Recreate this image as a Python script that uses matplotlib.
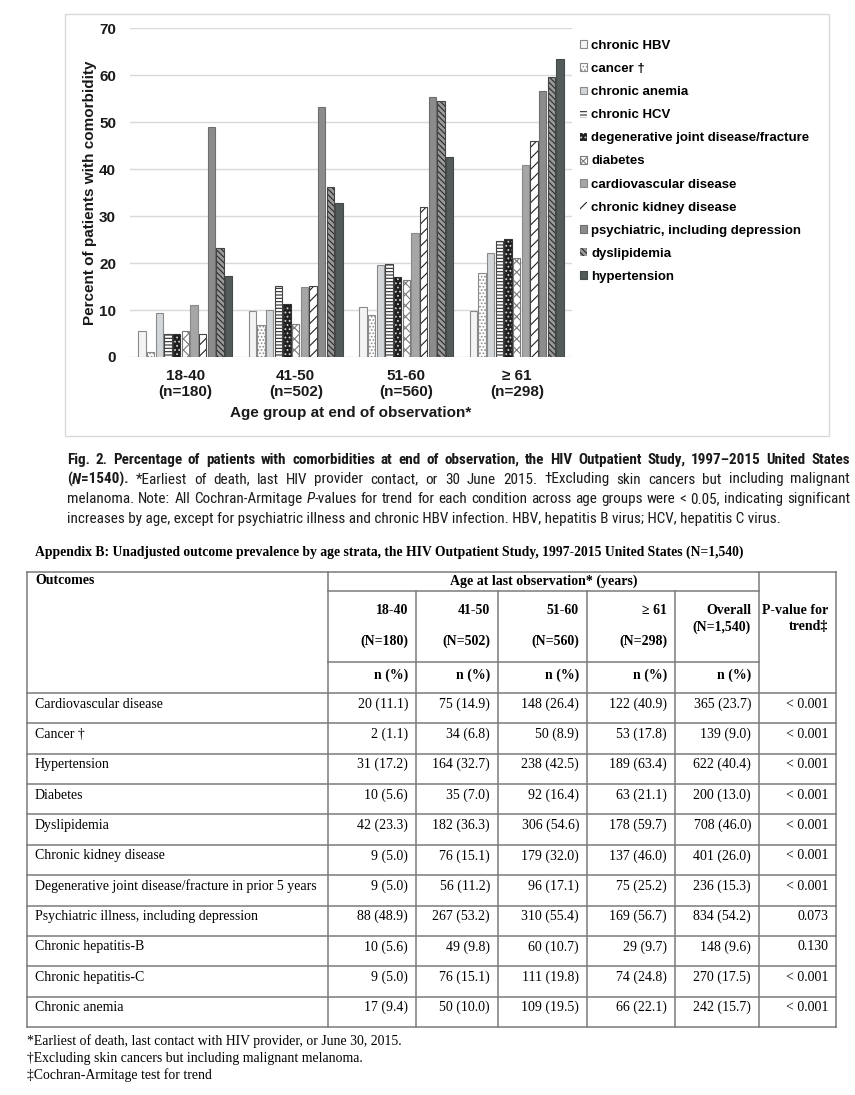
import os
import re
import matplotlib
matplotlib.use('Agg')
import matplotlib.pyplot as plt
from matplotlib import font_manager
from matplotlib.font_manager import FontProperties
from matplotlib.patches import Rectangle
from matplotlib.lines import Line2D

# ---- data (table order) ----
table_rows = ['Cardiovascular disease', 'Cancer †', 'Hypertension', 'Diabetes', 'Dyslipidemia',
              'Chronic kidney disease', 'Degenerative joint disease/fracture in prior 5 years',
              'Psychiatric illness, including depression', 'Chronic hepatitis-B',
              'Chronic hepatitis-C', 'Chronic anemia']
n_18_40 = [20, 2, 31, 10, 42, 9, 9, 88, 10, 9, 17]
pct_18_40 = [11.1, 1.1, 17.2, 5.6, 23.3, 5.0, 5.0, 48.9, 5.6, 5.0, 9.4]
n_41_50 = [75, 34, 164, 35, 182, 76, 56, 267, 49, 76, 50]
pct_41_50 = [14.9, 6.8, 32.7, 7.0, 36.3, 15.1, 11.2, 53.2, 9.8, 15.1, 10.0]
n_51_60 = [148, 50, 238, 92, 306, 179, 96, 310, 60, 111, 109]
pct_51_60 = [26.4, 8.9, 42.5, 16.4, 54.6, 32.0, 17.1, 55.4, 10.7, 19.8, 19.5]
n_61 = [122, 53, 189, 63, 178, 137, 75, 169, 29, 74, 66]
pct_61 = [40.9, 17.8, 63.4, 21.1, 59.7, 46.0, 25.2, 56.7, 9.7, 24.8, 22.1]
n_all = [365, 139, 622, 200, 708, 401, 236, 834, 148, 270, 242]
pct_all = [23.7, 9.0, 40.4, 13.0, 46.0, 26.0, 15.3, 54.2, 9.6, 17.5, 15.7]
p_trend = ['< 0.001'] * 7 + ['0.073', '0.130', '< 0.001', '< 0.001']

# chart series (legend order) -> index into table rows
age_groups = ['18-40\n(n=180)', '41-50\n(n=502)', '51-60\n(n=560)', '≥ 61\n(n=298)']
chart_labels = ['chronic HBV', 'cancer †', 'chronic anemia', 'chronic HCV',
                'degenerative joint disease/fracture', 'diabetes', 'cardiovascular disease',
                'chronic kidney disease', 'psychiatric, including depression', 'dyslipidemia',
                'hypertension']
chart_rows = [8, 1, 10, 9, 6, 3, 0, 5, 7, 4, 2]

# bar styles: face, hatch, hatch colour, edge
styles = [
    ('#f4f4f4', None, '#8a8a8a', '#8a8a8a'),
    ('white', '.....', '#8a8a8a', '#8a8a8a'),
    ('#d3d6d9', None, '#8a8a8a', '#8a8a8a'),
    ('white', '-----', '#2a2a2a', '#444444'),
    ('#1e1e1e', '....', '#d0d0d0', '#333333'),
    ('white', 'xxx', '#7a7a7a', '#7a7a7a'),
    ('#a6a6a6', None, '#8a8a8a', '#8a8a8a'),
    ('white', '///', '#222222', '#444444'),
    ('#8c8c8c', None, '#6e6e6e', '#6e6e6e'),
    ('#9a9a9a', '\\\\\\\\\\\\', '#2a2a2a', '#444444'),
    ('#525a5a', None, '#444a4a', '#444a4a'),
]

W, H = 855, 1095
plt.rcParams['hatch.linewidth'] = 0.8
fig = plt.figure(figsize=(W / 100, H / 100), dpi=100)
renderer = fig.canvas.get_renderer()


def fx(x):
    return x / W


def fy(y):
    return 1 - y / H


SANS = ['Liberation Sans', 'DejaVu Sans']
SERIF = ['Liberation Serif', 'DejaVu Serif']

# look for a condensed sans for the caption
files = {os.path.basename(f.fname).lower(): f.fname for f in font_manager.fontManager.ttflist}
cond_sets = [
    ('liberationsansnarrow-regular.ttf', 'liberationsansnarrow-bold.ttf',
     'liberationsansnarrow-italic.ttf', 'liberationsansnarrow-bolditalic.ttf'),
    ('notosans-condensed.ttf', 'notosans-condensedbold.ttf',
     'notosans-condenseditalic.ttf', 'notosans-condensedbolditalic.ttf'),
    ('robotocondensed-regular.ttf', 'robotocondensed-bold.ttf',
     'robotocondensed-italic.ttf', 'robotocondensed-bolditalic.ttf'),
    ('dejavusanscondensed.ttf', 'dejavusanscondensed-bold.ttf',
     'dejavusanscondensed-oblique.ttf', 'dejavusanscondensed-boldoblique.ttf'),
]
cap_files = None
for cs in cond_sets:
    if cs[0] in files and cs[1] in files:
        reg, bold = files[cs[0]], files[cs[1]]
        cap_files = {(False, False): reg, (True, False): bold,
                     (False, True): files.get(cs[2], reg), (True, True): files.get(cs[3], bold)}
        break


def font_kw(fam, b, i, size):
    if fam == 'cap' and cap_files is not None:
        return {'fontproperties': FontProperties(fname=cap_files[(b, i)], size=size)}
    family = SERIF if fam == 'serif' else SANS
    return {'family': family, 'weight': 'bold' if b else 'normal',
            'style': 'italic' if i else 'normal', 'fontsize': size}


# ---- chart panel ----
fig.patches.append(Rectangle((fx(65), fy(436)), fx(829) - fx(65), fy(14) - fy(436),
                             transform=fig.transFigure, fill=False, edgecolor='#d9d9d9', lw=1))
ax = fig.add_axes([fx(130), fy(357), fx(572) - fx(130), fy(28.3) - fy(357)])

slot = 0.0785
bw = 0.066
handles = []
for i, (lab, r) in enumerate(zip(chart_labels, chart_rows)):
    vals = [pct_18_40[r], pct_41_50[r], pct_51_60[r], pct_61[r]]
    xs = [g + (i - 5) * slot for g in range(len(age_groups))]
    face, hatch, hcol, edge = styles[i]
    if hcol == edge:
        b = ax.bar(xs, vals, width=bw, color=face, edgecolor=edge, hatch=hatch, lw=0.8, label=lab)
    else:
        b = ax.bar(xs, vals, width=bw, color=face, edgecolor=hcol, hatch=hatch, lw=0, label=lab)
        ax.bar(xs, vals, width=bw, fill=False, edgecolor=edge, lw=0.8)
    handles.append(b)

ax.set_xlim(-0.5, 3.5)
ax.set_ylim(0, 70)
ax.set_yticks(range(0, 71, 10))
ax.set_xticks(range(len(age_groups)))
ax.set_xticklabels(age_groups, linespacing=1.15)
for s in ax.spines.values():
    s.set_visible(False)
ax.yaxis.grid(True, color='#d9d9d9', lw=1)
ax.set_axisbelow(True)
ax.tick_params(axis='y', length=0, pad=10)
ax.tick_params(axis='x', length=0, pad=9)
for t in ax.get_xticklabels() + ax.get_yticklabels():
    t.set_fontfamily(SANS)
    t.set_fontweight('bold')
    t.set_fontsize(11)
    t.set_color('#1a1a1a')
ax.set_ylabel('Percent of patients with comorbidity', family=SANS, weight='bold', fontsize=11,
              color='#1a1a1a')
ax.yaxis.set_label_coords((97 - 130) / 442, 0.5)
ax.set_xlabel('Age group at end of observation*', family=SANS, weight='bold', fontsize=11,
              color='#1a1a1a', labelpad=5)

fig.legend(handles, chart_labels, loc='upper left', bbox_to_anchor=(fx(580), fy(40)),
           frameon=False, prop={'family': SANS, 'weight': 'bold', 'size': 9.5},
           handlelength=0.55, handleheight=0.55, handletextpad=0.3, labelspacing=0.84,
           borderpad=0, borderaxespad=0)


# ---- rich text helpers ----
def text_w(s, kw):
    t = fig.text(0, 0, s, **kw)
    w = t.get_window_extent(renderer).width
    t.remove()
    return w


def parse(s):
    bold = ital = False
    words = [[]]
    for p in re.split(r'(<b>|</b>|<i>|</i>)', s):
        if p == '<b>':
            bold = True
        elif p == '</b>':
            bold = False
        elif p == '<i>':
            ital = True
        elif p == '</i>':
            ital = False
        else:
            for k, part in enumerate(p.split(' ')):
                if k > 0:
                    words.append([])
                if part:
                    words[-1].append((part, bold, ital))
    return [w for w in words if w]


def space_w(fam, size):
    kw = font_kw(fam, False, False, size)
    return text_w('a a', kw) - text_w('aa', kw)


def natural_w(s, fam, size):
    words = parse(s)
    tot = sum(text_w(p[0], font_kw(fam, p[1], p[2], size)) for w in words for p in w)
    return tot + space_w(fam, size) * (len(words) - 1)


def draw_rich(x0, y, s, fam, size, width=None, color='#1a1a1a'):
    words = parse(s)
    if width is None and len({(p[1], p[2]) for w in words for p in w}) == 1:
        b, i = words[0][0][1], words[0][0][2]
        plain = re.sub(r'</?[bi]>', '', s)
        fig.text(fx(x0), fy(y), plain, va='baseline', ha='left', color=color,
                 **font_kw(fam, b, i, size))
        return
    ws = [sum(text_w(p[0], font_kw(fam, p[1], p[2], size)) for p in w) for w in words]
    gap = space_w(fam, size)
    if width is not None and len(words) > 1:
        gap = (width - sum(ws)) / (len(words) - 1)
    x = x0
    for w, ww in zip(words, ws):
        xx = x
        for txt, b, i in w:
            kw = font_kw(fam, b, i, size)
            fig.text(fx(xx), fy(y), txt, va='baseline', ha='left', color=color, **kw)
            xx += text_w(txt, kw)
        x += ww + gap


# ---- caption ----
caption = [
    '<b>Fig. 2.  Percentage of patients with comorbidities at end of observation, the HIV Outpatient Study, 1997–2015 United States</b>',
    '<b>(<i>N</i>=1540).</b> *Earliest of death, last HIV provider contact, or 30 June 2015. †Excluding skin cancers but including malignant',
    'melanoma. Note: All Cochran-Armitage <i>P</i>-values for trend for each condition across age groups were < 0.05, indicating significant',
    'increases by age, except for psychiatric illness and chronic HBV infection. HBV, hepatitis B virus; HCV, hepatitis C virus.',
]
cap_w = 783
nat_reg = max(natural_w(c, 'cap', 11) for c in caption[1:3])
cap_size = min(11.5, 11 * cap_w / nat_reg * 0.985)
size1 = min(cap_size, cap_size * cap_w / natural_w(caption[0], 'cap', cap_size) * 0.995)
for k, line in enumerate(caption):
    draw_rich(67, 464 + k * 19.5, line, 'cap', size1 if k == 0 else cap_size,
              width=cap_w if k < 3 else None)

# ---- table ----
title = '<b>Appendix B: Unadjusted outcome prevalence by age strata, the HIV Outpatient Study, 1997-2015 United States (N=1,540)</b>'
t_size = 10 * 710 / natural_w(title, 'serif', 10)
draw_rich(35, 556, title, 'serif', t_size, color='black')

cols = [27, 327.5, 416, 498, 587, 675, 759, 836]
top, age_line, npct_line, head_bot, bot = 572, 591, 662, 693, 1027
row_h = (bot - head_bot) / len(table_rows)
lc, lw = '#7a7a7a', 1.1


def hline(y, x0, x1):
    fig.add_artist(Line2D([fx(x0), fx(x1)], [fy(y), fy(y)], color=lc, lw=lw))


def vline(x, y0, y1):
    fig.add_artist(Line2D([fx(x), fx(x)], [fy(y0), fy(y1)], color=lc, lw=lw))


hline(top, cols[0], cols[-1])
hline(age_line, cols[1], cols[6])
hline(npct_line, cols[1], cols[6])
for k in range(len(table_rows) + 1):
    hline(head_bot + k * row_h, cols[0], cols[-1])
vline(cols[0], top, bot)
vline(cols[1], top, bot)
vline(cols[6], top, bot)
vline(cols[7], top, bot)
for x in cols[2:6]:
    vline(x, age_line, bot)


def cell(x, y, s, ha='right', weight='normal'):
    fig.text(fx(x), fy(y), s, fontsize=10, family=SERIF, weight=weight, ha=ha, va='center',
             color='black')


cell(35, 581, 'Outcomes', ha='left', weight='bold')
cell((cols[1] + cols[6]) / 2, 581, 'Age at last observation* (years)', ha='center', weight='bold')
col_heads = [('18-40', '(N=180)'), ('41-50', '(N=502)'), ('51-60', '(N=560)'), ('≥ 61', '(N=298)')]
for j, (a, b) in enumerate(col_heads):
    cell(cols[j + 2] - 8, 611, a, weight='bold')
    cell(cols[j + 2] - 8, 641, b, weight='bold')
    cell(cols[j + 2] - 8, 675, 'n (%)', weight='bold')
cell(cols[6] - 8, 611, 'Overall', weight='bold')
cell(cols[6] - 8, 627, '(N=1,540)', weight='bold')
cell(cols[6] - 8, 675, 'n (%)', weight='bold')
cell(cols[7] - 8, 611, 'P-value for', weight='bold')
cell(cols[7] - 8, 627, 'trend‡', weight='bold')

data_cols = [(n_18_40, pct_18_40), (n_41_50, pct_41_50), (n_51_60, pct_51_60),
             (n_61, pct_61), (n_all, pct_all)]
for r, name in enumerate(table_rows):
    y = head_bot + r * row_h + 11
    cell(35, y, name, ha='left')
    for j, (ns, ps) in enumerate(data_cols):
        cell(cols[j + 2] - 8, y, f'{ns[r]} ({ps[r]:.1f})')
    cell(cols[7] - 8, y, p_trend[r])

notes = ['*Earliest of death, last contact with HIV provider, or June 30, 2015.',
         '†Excluding skin cancers but including malignant melanoma.',
         '‡Cochran-Armitage test for trend']
n_size = 10 * 373 / natural_w(notes[0], 'serif', 10)
for k, s in enumerate(notes):
    draw_rich(27, 1045 + k * 17, s, 'serif', n_size, color='black')

fig.savefig('out.png', dpi=100)
